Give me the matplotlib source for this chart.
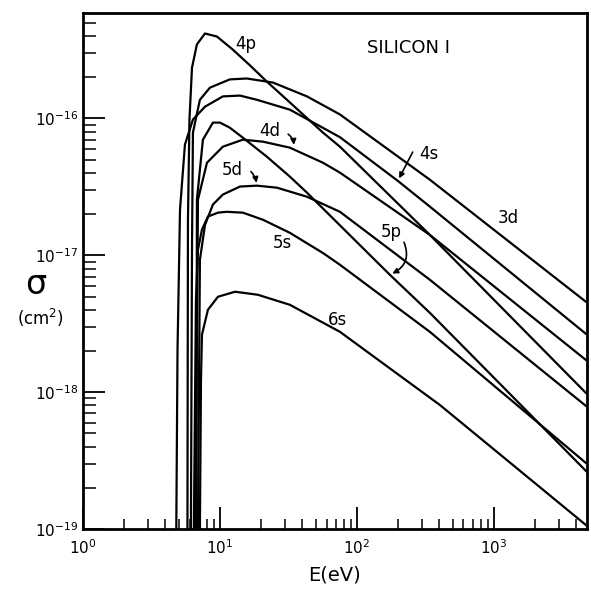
import matplotlib
matplotlib.use("Agg")
import matplotlib.pyplot as plt
import numpy as np

plt.rcParams['font.family'] = ['DejaVu Sans']
plt.rcParams['mathtext.fontset'] = 'dejavusans'

# ---- data (E in eV, sigma in cm^2) ----
# threshold points sit on the bottom axis (sigma -> 1e-19)
E_4p = [5.79, 5.84, 5.99, 6.25, 6.79, 7.78, 9.51, 12.4, 16.6, 22.0, 32.4, 56.5, 75.2, 341, 4700]
S_4p = [1e-19, 1.82e-17, 9.82e-17, 2.35e-16, 3.48e-16, 4.18e-16, 3.97e-16, 3.19e-16, 2.44e-16, 1.86e-16, 1.31e-16, 7.89e-17, 6.22e-17, 1.41e-17, 9.88e-19]

E_3d = [6.14, 6.25, 6.35, 7.14, 8.45, 11.8, 15.7, 24.4, 43.2, 75.2, 341, 4700]
S_3d = [1e-19, 1.10e-17, 7.89e-17, 1.37e-16, 1.68e-16, 1.93e-16, 1.96e-16, 1.83e-16, 1.45e-16, 1.07e-16, 3.57e-17, 4.58e-18]

E_4s = [4.80, 4.90, 5.11, 5.55, 6.35, 7.78, 10.5, 14.0, 18.6, 32.4, 75.2, 199, 341, 4700]
S_4s = [1e-19, 2.04e-18, 2.16e-17, 6.44e-17, 9.82e-17, 1.22e-16, 1.45e-16, 1.47e-16, 1.37e-16, 1.16e-16, 7.3e-17, 3.5e-17, 2.27e-17, 2.67e-18]

E_5p = [6.73, 6.79, 7.51, 8.89, 10.0, 11.8, 14.7, 22.0, 32.4, 43.2, 174, 341, 4700]
S_5p = [1e-19, 2.55e-17, 7.00e-17, 9.33e-17, 9.33e-17, 8.57e-17, 7.24e-17, 5.26e-17, 3.76e-17, 2.87e-17, 7.21e-18, 3.80e-18, 2.66e-19]

E_4d = [6.62, 6.91, 8.04, 10.5, 14.7, 20.6, 32.4, 56.5, 75.2, 341, 4700]
S_4d = [1e-19, 2.55e-17, 4.75e-17, 6.22e-17, 7.00e-17, 6.77e-17, 6.12e-17, 4.75e-17, 4.02e-17, 1.41e-17, 1.72e-18]

E_5d = [6.91, 7.14, 7.78, 8.89, 10.5, 14.0, 18.6, 26.1, 43.2, 75.2, 341, 4700]
S_5d = [1e-19, 9.29e-18, 1.67e-17, 2.35e-17, 2.78e-17, 3.18e-17, 3.23e-17, 3.12e-17, 2.68e-17, 2.08e-17, 6.63e-18, 7.94e-19]

E_5s = [6.45, 6.68, 6.91, 7.39, 8.17, 9.67, 11.2, 14.7, 20.6, 32.4, 56.5, 75.2, 341, 4700]
S_5s = [1e-19, 4.73e-18, 1.10e-17, 1.54e-17, 1.92e-17, 2.05e-17, 2.08e-17, 2.05e-17, 1.82e-17, 1.46e-17, 1.04e-17, 8.53e-18, 2.76e-18, 3.04e-19]

E_6s = [7.14, 7.27, 7.39, 8.17, 9.67, 12.9, 18.9, 32.4, 75.2, 403, 4700]
S_6s = [1e-19, 1.23e-18, 2.63e-18, 4.00e-18, 4.98e-18, 5.42e-18, 5.15e-18, 4.35e-18, 2.76e-18, 8.07e-19, 1.07e-19]

xticks = [1, 10, 100, 1000]
xtick_labels = [r'$10^0$', r'$10^1$', r'$10^2$', r'$10^3$']
yticks = [1e-19, 1e-18, 1e-17, 1e-16]
ytick_labels = [r'$10^{-19}$', r'$10^{-18}$', r'$10^{-17}$', r'$10^{-16}$']

fig = plt.figure(figsize=(5.91, 5.97), dpi=100)
ax = fig.add_axes([83/591, 1-529/597, (587-83)/591, (529-13)/597])

lw = 1.6
for E, S in [(E_4p, S_4p), (E_3d, S_3d), (E_4s, S_4s), (E_5p, S_5p),
             (E_4d, S_4d), (E_5d, S_5d), (E_5s, S_5s), (E_6s, S_6s)]:
    ax.plot(E, S, color='black', lw=lw, solid_joinstyle='round')

ax.set_xscale('log')
ax.set_yscale('log')
ax.set_xlim(1, 4790)
ax.set_ylim(1e-19, 5.9e-16)

ax.set_xticks(xticks)
ax.set_xticklabels(xtick_labels, fontsize=11)
ax.set_yticks(yticks)
ax.set_yticklabels(ytick_labels, fontsize=11)
ax.tick_params(which='major', direction='in', length=16, width=1.3, top=False, right=False)
ax.tick_params(which='minor', direction='in', length=7, width=1.1, top=False, right=False)
ax.tick_params(axis='y', which='minor', length=9)
ax.tick_params(axis='x', pad=7)
for sp in ax.spines.values():
    sp.set_linewidth(2.0)

ax.set_xlabel('E(eV)', fontsize=14, labelpad=6)
fig.text(36/591, 1-284/597, 'σ', fontsize=24, ha='center', va='center')
fig.text(40/591, 1-318/597, r'(cm$^\mathregular{2}$)', fontsize=12, ha='center', va='center')

fs = 12
ax.text(15.5, 3.53e-16, '4p', fontsize=fs, ha='center', va='center')
ax.text(240, 3.30e-16, 'SILICON I', fontsize=13, ha='center', va='center')
ax.text(23.2, 8.15e-17, '4d', fontsize=fs, ha='center', va='center')
ax.text(12.4, 4.23e-17, '5d', fontsize=fs, ha='center', va='center')
ax.text(28.4, 1.24e-17, '5s', fontsize=fs, ha='center', va='center')
ax.text(72.7, 3.38e-18, '6s', fontsize=fs, ha='center', va='center')
ax.text(177, 1.49e-17, '5p', fontsize=fs, ha='center', va='center')
ax.text(336, 5.54e-17, '4s', fontsize=fs, ha='center', va='center')
ax.text(1265, 1.88e-17, '3d', fontsize=fs, ha='center', va='center')

arrow = dict(arrowstyle='-|>', color='black', lw=1.2, mutation_scale=8)
ax.annotate('', xy=(34.7, 6.12e-17), xytext=(30.3, 7.89e-17),
            arrowprops=dict(arrow, connectionstyle='arc3,rad=-0.3'))
ax.annotate('', xy=(18.6, 3.23e-17), xytext=(16.3, 4.23e-17),
            arrowprops=dict(arrow, connectionstyle='arc3,rad=-0.2'))
ax.annotate('', xy=(199, 3.5e-17), xytext=(261, 5.92e-17),
            arrowprops=dict(arrow, connectionstyle='arc3,rad=0'))
ax.annotate('', xy=(174, 7.21e-18), xytext=(217, 1.30e-17),
            arrowprops=dict(arrow, connectionstyle='arc3,rad=-0.5'))

fig.savefig('out.png', dpi=100)
